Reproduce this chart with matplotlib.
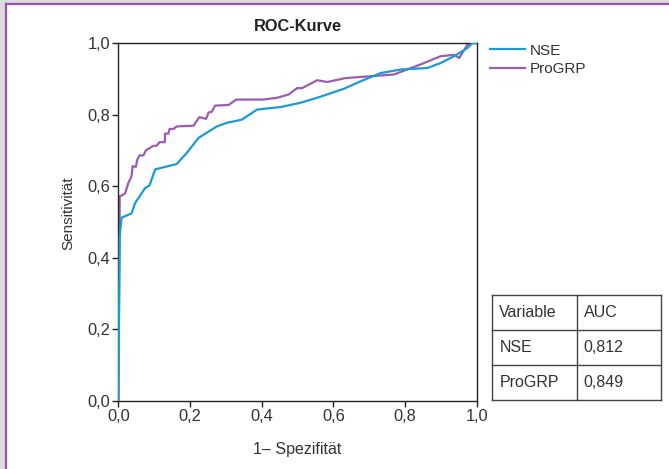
import matplotlib
matplotlib.use("Agg")
import matplotlib.pyplot as plt
from matplotlib.patches import Rectangle
from matplotlib.lines import Line2D

plt.rcParams['font.family'] = ['Liberation Sans', 'DejaVu Sans']

# Data
nse_x = [0.0, 0.004, 0.009, 0.037, 0.047, 0.075, 0.087, 0.103, 0.163, 0.191, 0.224,
         0.275, 0.303, 0.345, 0.387, 0.452, 0.508, 0.555, 0.629, 0.676, 0.732,
         0.788, 0.862, 0.899, 0.937, 0.974, 0.988, 1.0]
nse_y = [0.0, 0.46, 0.512, 0.524, 0.553, 0.595, 0.602, 0.647, 0.662, 0.693, 0.735,
         0.767, 0.777, 0.786, 0.814, 0.821, 0.833, 0.847, 0.872, 0.893, 0.916,
         0.926, 0.930, 0.944, 0.963, 0.986, 1.0, 1.0]

pro_x = [0.0, 0.004, 0.009, 0.019, 0.028, 0.037, 0.040, 0.049, 0.053, 0.059, 0.070,
         0.077, 0.098, 0.107, 0.115, 0.130, 0.130, 0.140, 0.143, 0.154, 0.163,
         0.210, 0.226, 0.245, 0.252, 0.261, 0.270, 0.308, 0.329, 0.405, 0.443,
         0.475, 0.499, 0.513, 0.555, 0.583, 0.634, 0.769, 0.848, 0.899, 0.937,
         0.951, 0.974, 0.983, 1.0]
pro_y = [0.0, 0.572, 0.574, 0.580, 0.609, 0.628, 0.656, 0.654, 0.674, 0.686, 0.686,
         0.700, 0.713, 0.713, 0.723, 0.723, 0.747, 0.747, 0.760, 0.760, 0.767,
         0.769, 0.793, 0.788, 0.806, 0.808, 0.825, 0.827, 0.842, 0.842, 0.847,
         0.856, 0.874, 0.874, 0.896, 0.891, 0.902, 0.912, 0.942, 0.963, 0.967,
         0.958, 0.995, 1.0, 1.0]

series_names = ["NSE", "ProGRP"]
auc_values = ["0,812", "0,849"]
ticks = [0.0, 0.2, 0.4, 0.6, 0.8, 1.0]
tick_labels = ["0,0", "0,2", "0,4", "0,6", "0,8", "1,0"]

W, H = 669, 469
fig = plt.figure(figsize=(W / 100, H / 100), dpi=100)
fig.patch.set_facecolor("white")

# Frame: gray margin + purple border at top and left
fig.add_artist(Rectangle((0, 0), 1, 1, transform=fig.transFigure,
                         facecolor="#dcdcde", edgecolor="none", zorder=-10))
fig.add_artist(Rectangle((5.5 / W, 0), 1, (H - 4.5) / H, transform=fig.transFigure,
                         facecolor="white", edgecolor="none", zorder=-9))
fig.add_artist(Line2D([5.5 / W, 1], [(H - 4.5) / H] * 2, transform=fig.transFigure,
                      color="#9b4fb0", lw=1.6, zorder=-8))
fig.add_artist(Line2D([5.5 / W] * 2, [0, (H - 4.5) / H], transform=fig.transFigure,
                      color="#9b4fb0", lw=1.6, zorder=-8))

ax = fig.add_axes([118.3 / W, (H - 401) / H, (476.7 - 118.3) / W, (401 - 43) / H])
blue = "#1b9ad6"
purple = "#9a5db3"
ax.plot(nse_x, nse_y, color=blue, lw=1.6, label=series_names[0], zorder=3)
ax.plot(pro_x, pro_y, color=purple, lw=1.6, label=series_names[1], zorder=2)

ax.set_xlim(0, 1)
ax.set_ylim(0, 1)
ax.set_xticks(ticks)
ax.set_xticklabels(tick_labels)
ax.set_yticks(ticks)
ax.set_yticklabels(tick_labels)
for s in ax.spines.values():
    s.set_color("#222222")
    s.set_linewidth(1.0)
ax.tick_params(direction="out", length=4, width=1, color="#222222",
               labelsize=11.8, labelcolor="#333333", pad=2)
ax.set_xlabel("1– Spezifität", fontsize=11.5, color="#333333", labelpad=13)
ax.set_ylabel("Sensitivität", fontsize=11, color="#333333")
ax.yaxis.set_label_coords(-0.12, 0.525)
ax.set_title("ROC-Kurve", fontsize=11.8, fontweight="bold", color="#222222", pad=8.5)

leg = ax.legend(loc="upper left", bbox_to_anchor=(1.02, 1.015), frameon=False,
                fontsize=11, handlelength=2.3, handletextpad=0.3,
                labelspacing=0.3, borderaxespad=0)
for t in leg.get_texts():
    t.set_color("#333333")

# AUC table
tl, tm, tr = 492.3, 576.7, 660.7
rows_y = [295, 330, 365, 399.5]
def fx(px):
    return px / W
def fy(py):
    return (H - py) / H
ec = "#444444"
for yv in rows_y:
    fig.add_artist(Line2D([fx(tl), fx(tr)], [fy(yv)] * 2, transform=fig.transFigure,
                          color=ec, lw=1.0))
for xv in [tl, tm, tr]:
    fig.add_artist(Line2D([fx(xv)] * 2, [fy(rows_y[0]), fy(rows_y[-1])],
                          transform=fig.transFigure, color=ec, lw=1.0))
cells = [["Variable", "AUC"]] + [[n, a] for n, a in zip(series_names, auc_values)]
for i, row in enumerate(cells):
    yc = (rows_y[i] + rows_y[i + 1]) / 2
    fig.text(fx(tl + 7), fy(yc), row[0], ha="left", va="center",
             fontsize=11.5, color="#333333")
    fig.text(fx(tm + 7), fy(yc), row[1], ha="left", va="center",
             fontsize=11.5, color="#333333")

fig.savefig("out.png", dpi=100, facecolor=fig.get_facecolor())
